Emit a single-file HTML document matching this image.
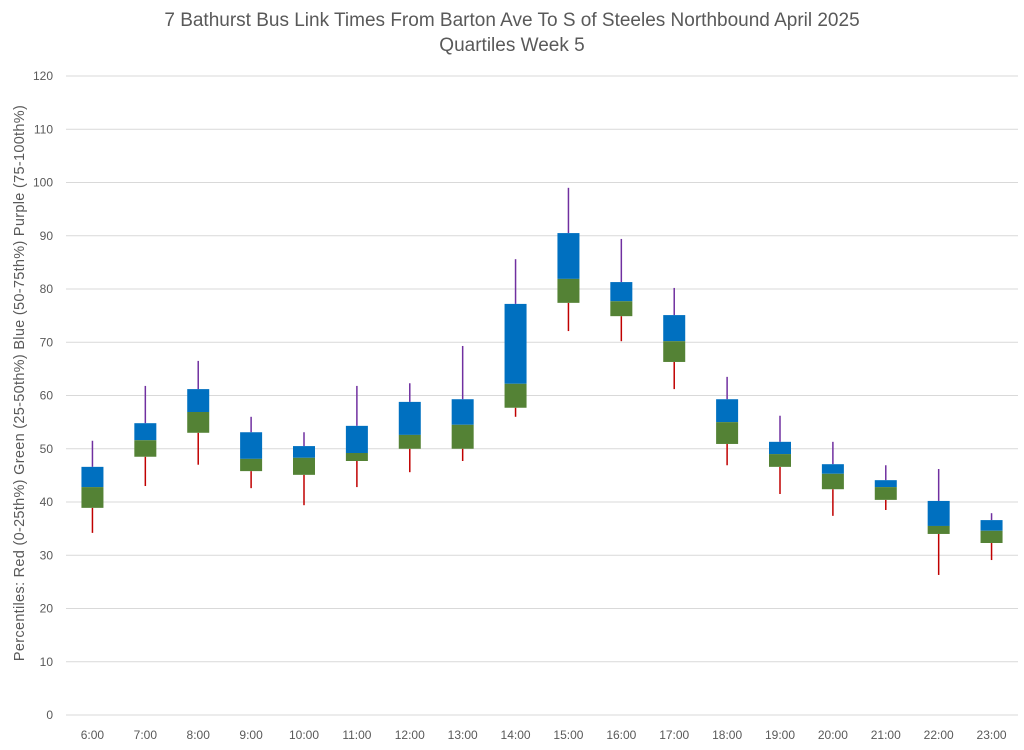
<!DOCTYPE html>
<html><head><meta charset="utf-8"><style>
body{margin:0;background:#fff;font-family:"Liberation Sans",Arial,sans-serif}
svg text{font-family:"Liberation Sans",Arial,sans-serif;fill:#595959}
</style></head><body>
<svg id="chart" width="1024" height="745" xmlns="http://www.w3.org/2000/svg">
<text x="512" y="26" font-size="19" text-anchor="middle">7 Bathurst Bus Link Times From Barton Ave To S of Steeles Northbound April 2025</text>
<text x="512" y="51" font-size="19" text-anchor="middle">Quartiles Week 5</text>
<text transform="translate(24,383) rotate(-90)" font-size="14.5" letter-spacing="0.3" text-anchor="middle">Percentiles:  Red (0-25th%)  Green (25-50th%)  Blue (50-75th%)  Purple (75-100th%)</text>
<g id="grid"></g><g id="marks"></g><g id="labels"></g>
</svg>
<script>
const categories=["6:00","7:00","8:00","9:00","10:00","11:00","12:00","13:00","14:00","15:00","16:00","17:00","18:00","19:00","20:00","21:00","22:00","23:00"];
const minVals=[34.2,43.0,47.0,42.6,39.4,42.8,45.6,47.7,56.0,72.1,70.2,61.2,46.9,41.5,37.4,38.5,26.3,29.1];
const q1Vals=[38.9,48.5,53.0,45.8,45.1,47.7,50.0,50.0,57.7,77.4,74.9,66.3,50.9,46.6,42.4,40.4,34.0,32.3];
const medVals=[42.8,51.6,56.9,48.1,48.3,49.2,52.6,54.5,62.2,81.9,77.7,70.2,55.0,49.0,45.3,42.8,35.5,34.6];
const q3Vals=[46.6,54.8,61.2,53.1,50.5,54.3,58.8,59.3,77.2,90.5,81.3,75.1,59.3,51.3,47.1,44.1,40.2,36.6];
const maxVals=[51.5,61.8,66.5,56.0,53.1,61.8,62.3,69.3,85.6,99.0,89.4,80.2,63.5,56.2,51.3,46.9,46.2,37.9];
const yTicks=[0,10,20,30,40,50,60,70,80,90,100,110,120];
const NS="http://www.w3.org/2000/svg";
const L=66,R=1018,T=76,B=715,yMax=120;
const y=v=>B-(v/yMax)*(B-T);
const step=(R-L)/categories.length;
const x=i=>L+step*(i+0.5);
function mk(tag,attrs,parent){const e=document.createElementNS(NS,tag);for(const k in attrs)e.setAttribute(k,attrs[k]);document.getElementById(parent).appendChild(e);return e;}
yTicks.forEach(t=>{
  const g=mk("line",{x1:L,x2:R,y1:y(t),y2:y(t),stroke:"#d9d9d9","stroke-width":1},"grid");
  
  
  const tx=mk("text",{x:53,y:y(t)+4,"font-size":12,"text-anchor":"end"},"labels");
  tx.textContent=t;
  
  
});
categories.forEach((c,i)=>{
  const cx=x(i),w=22;
  const up=mk("line",{x1:cx,x2:cx,y1:y(maxVals[i]),y2:y(q3Vals[i]),stroke:"#7030A0","stroke-width":1.5},"marks");
  
  
  const lo=mk("line",{x1:cx,x2:cx,y1:y(q1Vals[i]),y2:y(minVals[i]),stroke:"#C00000","stroke-width":1.5},"marks");
  
  
  const bb=mk("rect",{x:cx-w/2,width:w,y:y(q3Vals[i]),height:y(medVals[i])-y(q3Vals[i]),fill:"#0070C0"},"marks");
  
  
  const gb=mk("rect",{x:cx-w/2,width:w,y:y(medVals[i]),height:y(q1Vals[i])-y(medVals[i]),fill:"#548235"},"marks");
  
  
  const tx=mk("text",{x:cx,y:739,"font-size":12,"text-anchor":"middle"},"labels");
  tx.textContent=c;
  
  
});
</script>
</body></html>
